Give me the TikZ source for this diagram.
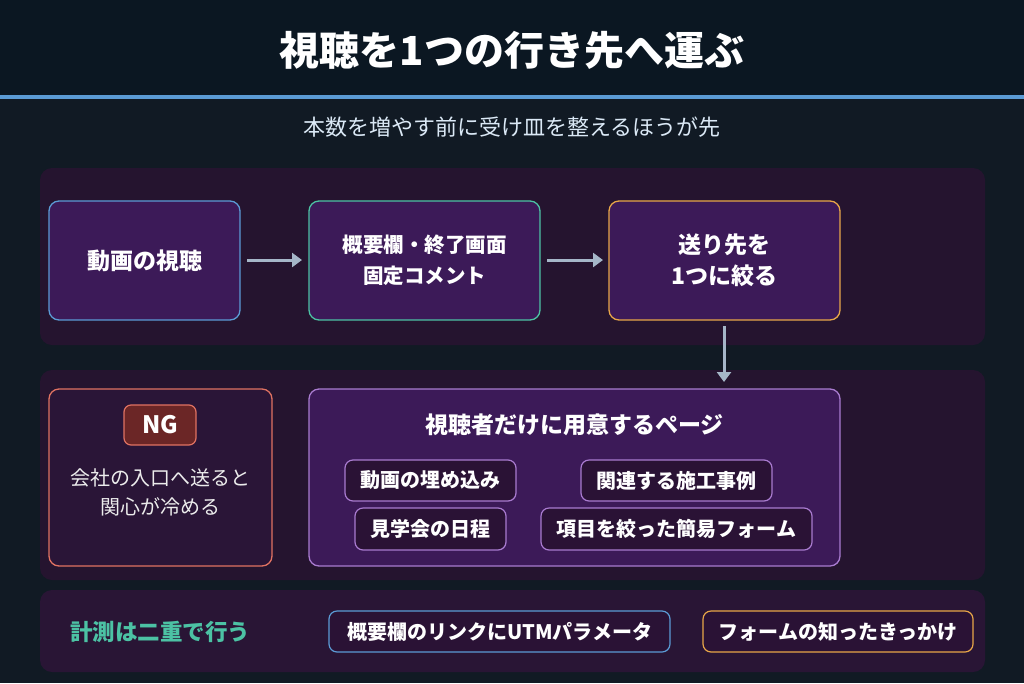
\documentclass[tikz,border=0pt]{standalone}
\usepackage{fontspec}
\setmainfont{Noto Sans CJK JP}
\usetikzlibrary{arrows.meta}
\definecolor{bgA}{HTML}{0B1722}
\definecolor{bgB}{HTML}{111A24}
\definecolor{panel}{HTML}{25142F}
\definecolor{boxf}{HTML}{3C1A58}
\definecolor{pillf}{HTML}{2A1235}
\definecolor{cblue}{HTML}{5B9BD5}
\definecolor{cteal}{HTML}{4CC2A4}
\definecolor{corange}{HTML}{E8A648}
\definecolor{csalmon}{HTML}{E07262}
\definecolor{cpurple}{HTML}{A97BD0}
\definecolor{carrow}{HTML}{A5B6C8}
\definecolor{ngf}{HTML}{6B2626}
\begin{document}
\begin{tikzpicture}[x=1pt,y=-1pt,
  box/.style={fill=boxf,rounded corners=10pt,line width=1.3pt},
  pill/.style={fill=pillf,draw=cpurple,rounded corners=8pt,line width=1.2pt,text=white,font=\bfseries\fontsize{20}{24}\selectfont},
  lbl/.style={text=white,font=\bfseries\fontsize{23}{31}\selectfont,align=center},
  arr/.style={carrow,line width=3pt,-{Triangle[length=10pt,width=14pt]}}]
\useasboundingbox (0,0) rectangle (1024,683);
\fill[bgB] (0,0) rectangle (1024,683);
\fill[bgA] (0,0) rectangle (1024,96);
\fill[cblue] (0,95) rectangle (1024,99);
\node[text=white,font=\bfseries\fontsize{40}{44}\selectfont] (title) at (512,50) {視聴を1つの行き先へ運ぶ};
\node[text=white!78!cblue,font=\fontsize{22}{24}\selectfont] (sub) at (512,127) {本数を増やす前に受け皿を整えるほうが先};
% panel 1
\fill[panel] (40,168) [rounded corners=12pt] rectangle (985,345);
\draw[box,draw=cblue] (49,201) rectangle (240,320);
\node[lbl] (b1) at (144.5,260.5) {動画の視聴};
\draw[box,draw=cteal] (309,201) rectangle (540,320);
\node[lbl,font=\bfseries\fontsize{20.5}{31}\selectfont] (b2) at (424.5,260.5) {概要欄・終了画面\\固定コメント};
\draw[box,draw=corange] (609,201) rectangle (840,320);
\node[lbl] (b3) at (724.5,260.5) {送り先を\\1つに絞る};
\coordinate (a1s) at (247,260); \coordinate (a1e) at (302,260);
\coordinate (a2s) at (547,260); \coordinate (a2e) at (603,260);
\draw[arr] (a1s) -- (a1e);
\draw[arr] (a2s) -- (a2e);
% panel 2
\fill[panel] (40,370) [rounded corners=12pt] rectangle (985,580);
\coordinate (a3s) at (724,326); \coordinate (a3e) at (724,382);
\draw[arr] (a3s) -- (a3e);
\draw[box,draw=csalmon,fill=panel!80!boxf] (49,389) rectangle (272,566);
\node[fill=ngf,draw=csalmon,rounded corners=7pt,line width=1.2pt,minimum width=72pt,minimum height=40pt,text=white,font=\bfseries\fontsize{24}{26}\selectfont] (ng) at (160,425) {NG};
\node[text=white!85!gray,font=\fontsize{20}{29}\selectfont,align=center] (ngt) at (160,492) {会社の入口へ送ると\\関心が冷める};
\draw[box,draw=cpurple] (309,389) rectangle (840,566);
\node[lbl] (pg) at (574.5,425) {視聴者だけに用意するページ};
\node[pill,minimum width=171pt,minimum height=41pt] (p1) at (430.5,480.5) {動画の埋め込み};
\node[pill,minimum width=191pt,minimum height=41pt] (p2) at (676.5,480.5) {関連する施工事例};
\node[pill,minimum width=151pt,minimum height=42pt] (p3) at (430.5,529) {見学会の日程};
\node[pill,minimum width=271pt,minimum height=42pt] (p4) at (676.5,529) {項目を絞った簡易フォーム};
% panel 3
\fill[panel!85!boxf] (40,590) [rounded corners=12pt] rectangle (985,672);
\node[text=cteal,font=\bfseries\fontsize{22.5}{26}\selectfont] (m) at (160,632) {計測は二重で行う};
\node[pill,draw=cblue,minimum width=341pt,minimum height=41pt] (q1) at (499.5,631.5) {概要欄のリンクにUTMパラメータ};
\node[pill,draw=corange,minimum width=270pt,minimum height=41pt] (q2) at (838,631.5) {フォームの知ったきっかけ};
\end{tikzpicture}
\end{document}
